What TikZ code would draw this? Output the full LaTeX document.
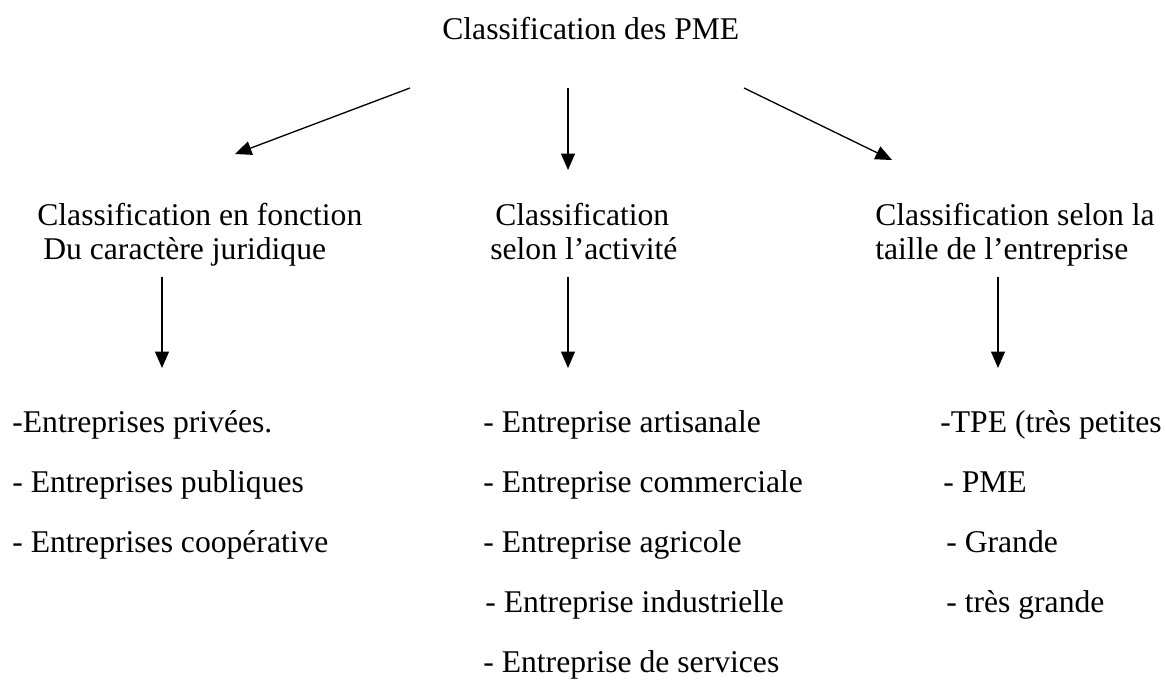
\documentclass[tikz,border=0pt]{standalone}
\usepackage{fontspec}
\setmainfont{Liberation Serif}
\usetikzlibrary{arrows.meta}

\begin{document}
\begin{tikzpicture}
[
	x = 0.02cm, y = -0.02cm,
	txt/.style	= {anchor = base west, inner sep = 0pt, font = \fontsize{18}{20}\selectfont},
	link/.style	= {-{Triangle[length = 0.33cm, width = 0.28cm]}, line width = 0.75pt},
]

	\useasboundingbox (0,0) rectangle (1166,680);

	\node (title) [txt] at (442,39) {Classification des PME};
	%
	\node (jur1) [txt] at (37,225) {Classification en fonction};
	\node (jur2) [txt] at (43,259) {Du caractère juridique};
	\node (act1) [txt] at (495,225) {Classification};
	\node (act2) [txt] at (490,259) {selon l’activité};
	\node (tai1) [txt] at (875,225) {Classification selon la};
	\node (tai2) [txt] at (875,259) {taille de l’entreprise};
	%
	\node (jurA) [txt] at (12,432) {-Entreprises privées.};
	\node (jurB) [txt] at (12,492) {- Entreprises publiques};
	\node (jurC) [txt] at (12,552) {- Entreprises coopérative};
	%
	\node (actA) [txt] at (483,432) {- Entreprise artisanale};
	\node (actB) [txt] at (483,492) {- Entreprise commerciale};
	\node (actC) [txt] at (483,552) {- Entreprise agricole};
	\node (actD) [txt] at (485,612) {- Entreprise industrielle};
	\node (actE) [txt] at (483,672) {- Entreprise de services};
	%
	\node (taiA) [txt] at (940,432) {-TPE (très petites};
	\node (taiB) [txt] at (943,492) {- PME};
	\node (taiC) [txt] at (946,552) {- Grande};
	\node (taiD) [txt] at (946,612) {- très grande};

	\coordinate (from1) at (410,88);
	\coordinate (from2) at (568,88);
	\coordinate (from3) at (744,88);
	\coordinate (to1) at (235,154);
	\coordinate (to2) at (568,170);
	\coordinate (to3) at (892,160);
	%
	\coordinate (down1) at (162,277);
	\coordinate (down2) at (568,277);
	\coordinate (down3) at (998,277);
	\coordinate (list1) at (162,368);
	\coordinate (list2) at (568,368);
	\coordinate (list3) at (998,368);

	\draw [link] (from1) -- (to1);
	\draw [link] (from2) -- (to2);
	\draw [link] (from3) -- (to3);
	%
	\draw [link] (down1) -- (list1);
	\draw [link] (down2) -- (list2);
	\draw [link] (down3) -- (list3);

\end{tikzpicture}
\end{document}
